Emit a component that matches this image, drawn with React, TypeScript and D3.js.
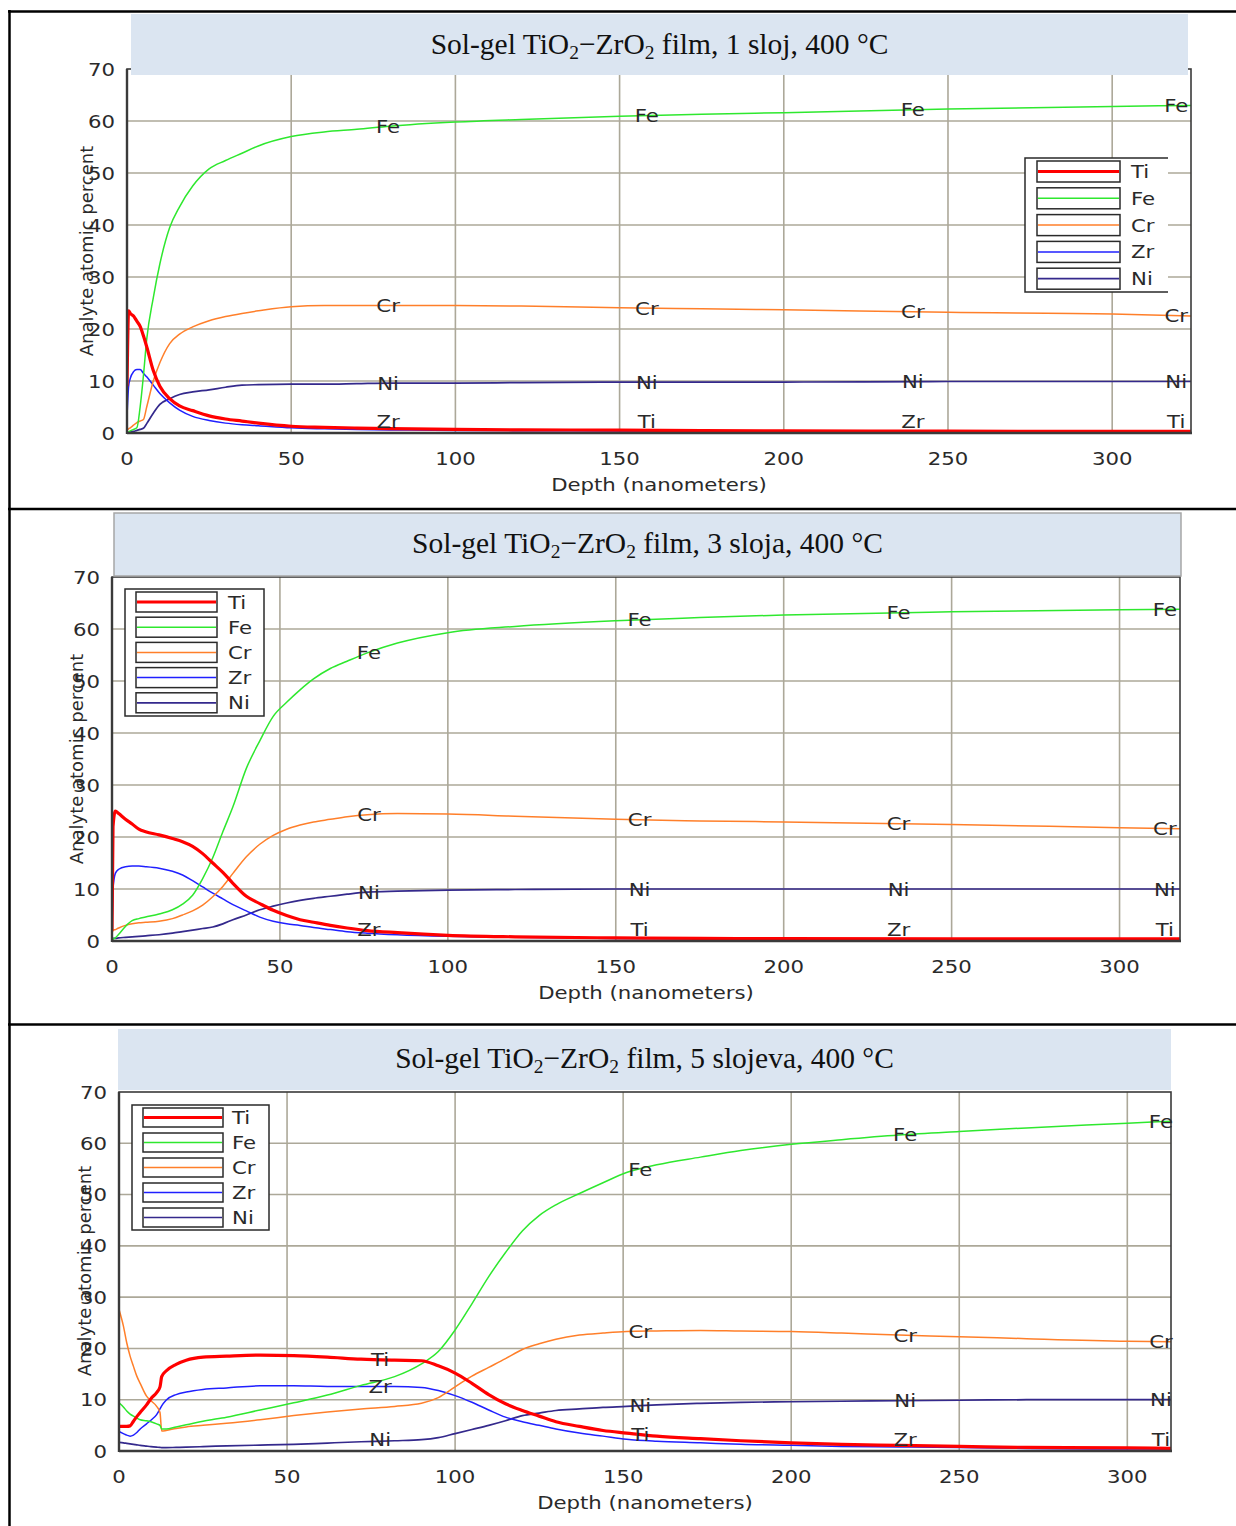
import React from "react";
import * as d3 from "d3";

// ---------- shared ----------
const SERIES = ["Ti", "Fe", "Cr", "Zr", "Ni"];
const COLORS: Record<string, string> = {
  Ti: "#ff0000",
  Fe: "#2ee82e",
  Cr: "#ff7f2a",
  Zr: "#2020ff",
  Ni: "#34298c",
};
const WIDTHS: Record<string, number> = { Ti: 3.2, Fe: 1.5, Cr: 1.5, Zr: 1.5, Ni: 1.7 };
const Y_TICKS = [0, 10, 20, 30, 40, 50, 60, 70];
const X_TICKS = [0, 50, 100, 150, 200, 250, 300];
const X_TITLE = "Depth (nanometers)";
const Y_TITLE = "Analyte atomic percent";

// ---------- panel 1: 1 sloj ----------
const depth1 = [0, 0.5, 1, 2, 3, 4, 5, 6, 8, 10, 13, 16, 20, 25, 30, 35, 40, 50, 60, 70, 80, 100, 120, 150, 175, 200, 250, 300, 324];
const ti1 = [9, 23.5, 23, 22.5, 21.5, 20.5, 18.7, 16.6, 12, 9, 6.6, 5.2, 4.3, 3.3, 2.7, 2.3, 1.9, 1.3, 1.1, 0.95, 0.85, 0.7, 0.6, 0.55, 0.45, 0.4, 0.35, 0.3, 0.3];
const fe1 = [0, 0.2, 0.4, 0.7, 1, 5, 11, 18, 26, 32.5, 39.5, 43.5, 47.5, 50.8, 52.4, 53.8, 55.2, 57, 57.9, 58.4, 59, 59.8, 60.3, 60.9, 61.3, 61.6, 62.3, 62.8, 63.0];
const cr1 = [0.5, 0.8, 1, 1.5, 2, 2.3, 2.6, 5, 10, 13.5, 17.2, 19, 20.4, 21.6, 22.4, 23, 23.5, 24.3, 24.5, 24.5, 24.5, 24.5, 24.4, 24.1, 23.9, 23.7, 23.2, 22.9, 22.5];
const zr1 = [3, 9, 10.5, 11.8, 12.2, 12.2, 11.5, 10.8, 9.2, 7.6, 5.8, 4.4, 3.2, 2.4, 1.9, 1.6, 1.4, 1.0, 0.8, 0.65, 0.6, 0.5, 0.45, 0.4, 0.35, 0.3, 0.3, 0.25, 0.25];
const ni1 = [0, 0.1, 0.2, 0.3, 0.5, 0.7, 0.9, 1.8, 3.8, 5.5, 6.6, 7.4, 7.9, 8.3, 8.8, 9.2, 9.3, 9.4, 9.4, 9.5, 9.6, 9.6, 9.7, 9.8, 9.8, 9.8, 9.9, 9.9, 9.9];
const labelAt1 = [79.5, 158.3, 239.3, 319.5];
const labelSeries1 = [["Fe", "Cr", "Ni", "Zr"], ["Fe", "Cr", "Ni", "Ti"], ["Fe", "Cr", "Ni", "Zr"], ["Fe", "Cr", "Ni", "Ti"]];

// ---------- panel 2: 3 sloja ----------
const depth2 = [0, 0.3, 1, 2, 4, 6, 8, 10, 14, 18, 21, 24, 27, 30, 33, 36, 40, 44, 48, 52, 56, 60, 65, 70, 76, 85, 100, 120, 150, 175, 200, 250, 300, 318];
const ti2 = [2, 22, 25, 24.5, 23.4, 22.5, 21.5, 21, 20.4, 19.7, 19.1, 18.2, 16.8, 15, 13.2, 11.1, 8.6, 7.2, 5.9, 4.9, 4.1, 3.6, 3.0, 2.5, 2.0, 1.6, 1.1, 0.8, 0.6, 0.5, 0.45, 0.4, 0.4, 0.4];
const fe2 = [0, 0.3, 0.6, 1.3, 2.8, 3.9, 4.3, 4.6, 5.2, 6.0, 7.1, 8.8, 12, 16, 21, 25.8, 33.2, 38.5, 43.2, 45.9, 48.3, 50.4, 52.4, 53.8, 55.4, 57.3, 59.3, 60.5, 61.6, 62.2, 62.7, 63.3, 63.7, 63.8];
const cr2 = [1.5, 2.0, 2.2, 2.5, 3.0, 3.3, 3.5, 3.6, 3.8, 4.3, 5, 5.8, 6.9, 8.5, 10.5, 13, 16.2, 18.6, 20.3, 21.5, 22.3, 22.9, 23.4, 23.9, 24.3, 24.5, 24.4, 24.0, 23.4, 23.1, 22.9, 22.4, 21.8, 21.6];
const zr2 = [2, 10, 13, 13.8, 14.3, 14.4, 14.4, 14.3, 14, 13.4, 12.7, 11.6, 10.4, 9.2, 8.1, 7, 5.8, 4.6, 3.8, 3.3, 3.0, 2.6, 2.2, 1.8, 1.5, 1.2, 0.9, 0.7, 0.5, 0.45, 0.4, 0.4, 0.35, 0.35];
const ni2 = [0.3, 0.5, 0.5, 0.6, 0.7, 0.8, 0.9, 1.0, 1.2, 1.5, 1.8, 2.1, 2.4, 2.7, 3.3, 4.1, 5.0, 6.0, 6.7, 7.3, 7.8, 8.2, 8.6, 9.0, 9.4, 9.6, 9.8, 9.9, 10, 10, 10, 10, 10, 10];
const labelAt2 = [76.5, 157.1, 234.2, 313.5];
const labelSeries2 = [["Fe", "Cr", "Ni", "Zr"], ["Fe", "Cr", "Ni", "Ti"], ["Fe", "Cr", "Ni", "Zr"], ["Fe", "Cr", "Ni", "Ti"]];

// ---------- panel 3: 5 slojeva ----------
const depth3 = [0, 1.3, 2.3, 3.3, 4.3, 5.3, 6.3, 8.2, 9.5, 11.2, 12.2, 12.7, 14, 17, 20, 25, 32, 42, 52, 62, 72, 82, 90, 95, 100, 105, 110, 115, 120, 125, 130, 137, 144, 151, 160, 173, 185, 200, 215, 232, 250, 270, 300, 313];
const ti3 = [4.8, 4.8, 4.8, 4.9, 5.8, 6.7, 7.5, 9, 10.2, 11.4, 12.5, 14.5, 15.6, 16.9, 17.7, 18.3, 18.5, 18.7, 18.6, 18.3, 17.9, 17.7, 17.6, 16.6, 15.2, 13.2, 11.0, 9.2, 7.9, 6.8, 5.7, 4.8, 4.0, 3.5, 2.9, 2.4, 2.0, 1.6, 1.3, 1.1, 0.9, 0.7, 0.6, 0.5];
const fe3 = [9.4, 8.6, 7.8, 7.2, 6.8, 6.4, 6.1, 5.9, 5.7, 5.3, 5.0, 4.3, 4.3, 4.7, 5.1, 5.8, 6.6, 8.0, 9.4, 10.9, 12.8, 14.5, 17.0, 19.4, 23.6, 28.7, 34, 38.7, 42.9, 45.9, 48.0, 50.2, 52.3, 54.3, 55.8, 57.3, 58.6, 59.8, 60.7, 61.6, 62.3, 63.0, 63.9, 64.3];
const cr3 = [27.6, 24.4, 21.1, 18.5, 16.5, 14.6, 13.2, 10.7, 9.8, 8.7, 7.5, 3.9, 4.0, 4.4, 4.7, 5.0, 5.4, 6.1, 6.9, 7.6, 8.2, 8.7, 9.3, 10.4, 12.5, 14.6, 16.3, 18.0, 19.8, 20.9, 21.8, 22.6, 23.0, 23.3, 23.4, 23.5, 23.4, 23.3, 23.0, 22.6, 22.3, 21.9, 21.4, 21.3];
const zr3 = [3.8, 3.4, 3.1, 2.9, 3.1, 3.6, 4.3, 5.3, 6.0, 7.1, 8.2, 8.8, 9.9, 11.0, 11.5, 12.0, 12.3, 12.7, 12.7, 12.6, 12.6, 12.6, 12.4, 11.8, 10.8, 9.5, 8.0, 6.6, 5.7, 5.0, 4.3, 3.5, 2.9, 2.3, 1.9, 1.6, 1.3, 1.1, 0.9, 0.8, 0.7, 0.5, 0.4, 0.4];
const ni3 = [1.7, 1.6, 1.5, 1.4, 1.3, 1.2, 1.1, 0.95, 0.85, 0.75, 0.7, 0.65, 0.65, 0.7, 0.75, 0.85, 1.0, 1.15, 1.3, 1.55, 1.8, 2.0, 2.2, 2.6, 3.4, 4.2, 5.0, 5.9, 6.9, 7.4, 7.9, 8.2, 8.5, 8.7, 9.0, 9.3, 9.5, 9.6, 9.7, 9.8, 9.9, 10, 10, 10];
const labelAt3 = [77.7, 155.1, 233.9, 310];
const labelSeries3 = [["Ti", "Zr", "Ni"], ["Fe", "Cr", "Ni", "Ti"], ["Fe", "Cr", "Ni", "Zr"], ["Fe", "Cr", "Ni", "Ti"]];

const TITLE_SUFFIX = [" film, 1 sloj, 400 °C", " film, 3 sloja, 400 °C", " film, 5 slojeva, 400 °C"];

// ---------- layout (positions only) ----------
type Layout = {
  left: number; right: number; top: number; bottom: number; xMax: number;
  tbox: { x: number; y: number; w: number; h: number; border: boolean };
  titleY: number;
  legend: { x: number; y: number; w: number; h: number; openRight: boolean; sx: number; sw: number; sh: number; sy: number; step: number; lx: number };
  yTitle: { x: number; y: number };
};

const layouts: Layout[] = [
  {
    left: 127, right: 1191, top: 69, bottom: 433, xMax: 324,
    tbox: { x: 131, y: 14, w: 1057, h: 61, border: false }, titleY: 54,
    legend: { x: 1025, y: 158, w: 143, h: 134, openRight: true, sx: 1037, sw: 83, sh: 21, sy: 161, step: 26.8, lx: 1131 },
    yTitle: { x: 87, y: 251 },
  },
  {
    left: 112, right: 1180, top: 577, bottom: 941, xMax: 318,
    tbox: { x: 114, y: 513, w: 1067, h: 63, border: true }, titleY: 553,
    legend: { x: 125, y: 589, w: 139, h: 127, openRight: false, sx: 136, sw: 81, sh: 20, sy: 592, step: 25.2, lx: 228 },
    yTitle: { x: 77, y: 759 },
  },
  {
    left: 119, right: 1171, top: 1092, bottom: 1451, xMax: 313,
    tbox: { x: 118, y: 1029, w: 1053, h: 61, border: false }, titleY: 1068,
    legend: { x: 132, y: 1105, w: 137, h: 125, openRight: false, sx: 143, sw: 80, sh: 19, sy: 1108, step: 25, lx: 232 },
    yTitle: { x: 85, y: 1271 },
  },
];

const panelData = [
  { depth: depth1, vals: { Ti: ti1, Fe: fe1, Cr: cr1, Zr: zr1, Ni: ni1 } as Record<string, number[]>, labelAt: labelAt1, labelSeries: labelSeries1 },
  { depth: depth2, vals: { Ti: ti2, Fe: fe2, Cr: cr2, Zr: zr2, Ni: ni2 } as Record<string, number[]>, labelAt: labelAt2, labelSeries: labelSeries2 },
  { depth: depth3, vals: { Ti: ti3, Fe: fe3, Cr: cr3, Zr: zr3, Ni: ni3 } as Record<string, number[]>, labelAt: labelAt3, labelSeries: labelSeries3 },
];

const SANS = "'DejaVu Sans', Verdana, sans-serif";
const SERIF = "'Liberation Serif', 'Times New Roman', serif";
const SX = 1.18; // horizontal stretch of chart text
const GRID = "#aca899";
const FRAME = "#3a3a3a";

function SText({ x, y, anchor, children, size = 18 }: any) {
  return (
    <text transform={`translate(${x},${y}) scale(${SX},1)`} textAnchor={anchor} fontFamily={SANS} fontSize={size} fill="#2a2a2a">
      {children}
    </text>
  );
}

function Panel({ idx }: { idx: number }) {
  const L = layouts[idx];
  const D = panelData[idx];
  const x = d3.scaleLinear().domain([0, L.xMax]).range([L.left, L.right]);
  const y = d3.scaleLinear().domain([0, 70]).range([L.bottom, L.top]);
  const order = ["Ni", "Zr", "Cr", "Fe", "Ti"];
  const clipId = `clip${idx}`;
  const interp = (s: string, d: number) => {
    const arr = D.vals[s];
    const dep = D.depth;
    const i = d3.bisectLeft(dep, d);
    if (i <= 0) return arr[0];
    if (i >= dep.length) return arr[arr.length - 1];
    const t = (d - dep[i - 1]) / (dep[i] - dep[i - 1]);
    return arr[i - 1] + t * (arr[i] - arr[i - 1]);
  };
  const lg = L.legend;
  return (
    <g>
      <defs>
        <clipPath id={clipId}>
          <rect x={L.left} y={L.top} width={L.right - L.left} height={L.bottom - L.top} />
        </clipPath>
      </defs>
      <rect x={L.left} y={L.top} width={L.right - L.left} height={L.bottom - L.top} fill="#fff" />
      {/* grid */}
      {Y_TICKS.filter((t) => t > 0 && t < 70).map((t) => (
        <line key={"gy" + t} x1={L.left} x2={L.right} y1={y(t)} y2={y(t)} stroke={GRID} strokeWidth={1.6} />
      ))}
      {X_TICKS.filter((t) => t > 0).map((t) => (
        <line key={"gx" + t} x1={x(t)} x2={x(t)} y1={L.top} y2={L.bottom} stroke={GRID} strokeWidth={1.6} />
      ))}
      {/* curves */}
      <g clipPath={`url(#${clipId})`}>
        {order.map((s) => {
          const line = d3
            .line<number>()
            .x((_, i) => x(D.depth[i]))
            .y((v) => y(v))
            .curve(d3.curveMonotoneX);
          return <path key={s} d={line(D.vals[s]) || ""} fill="none" stroke={COLORS[s]} strokeWidth={WIDTHS[s]} strokeLinejoin="round" />;
        })}
      </g>
      {/* frame */}
      <rect x={L.left} y={L.top} width={L.right - L.left} height={L.bottom - L.top} fill="none" stroke={FRAME} strokeWidth={1.6} />
      <line x1={L.left} x2={L.left} y1={L.top} y2={L.bottom + 1} stroke={FRAME} strokeWidth={2.4} />
      <line x1={L.left} x2={L.right + 1} y1={L.bottom} y2={L.bottom} stroke={FRAME} strokeWidth={2.4} />
      {/* curve labels */}
      {D.labelAt.map((d, k) =>
        D.labelSeries[k].map((s) => {
          const yy = Math.min(y(interp(s, d)), L.bottom - 12);
          return (
            <SText key={s + k} x={x(d)} y={yy + 6.5} anchor="middle">
              {s}
            </SText>
          );
        })
      )}
      {/* ticks */}
      {Y_TICKS.map((t) => (
        <SText key={"ty" + t} x={L.left - 12} y={y(t) + 6.5} anchor="end">
          {t}
        </SText>
      ))}
      {X_TICKS.map((t) => (
        <SText key={"tx" + t} x={x(t)} y={L.bottom + 32} anchor="middle">
          {t}
        </SText>
      ))}
      <SText x={(L.left + L.right) / 2} y={L.bottom + 58} anchor="middle">
        {X_TITLE}
      </SText>
      <text transform={`translate(${L.yTitle.x},${L.yTitle.y}) rotate(-90)`} textAnchor="middle" dy="0.35em" fontFamily={SANS} fontSize={18} fill="#2a2a2a">
        {Y_TITLE}
      </text>
      {/* legend */}
      <rect x={lg.x} y={lg.y} width={lg.w} height={lg.h} fill="#fff" stroke="none" />
      {lg.openRight ? (
        <path d={`M${lg.x + lg.w},${lg.y}H${lg.x}V${lg.y + lg.h}H${lg.x + lg.w}`} fill="none" stroke="#2a2a2a" strokeWidth={1.5} />
      ) : (
        <rect x={lg.x} y={lg.y} width={lg.w} height={lg.h} fill="none" stroke="#2a2a2a" strokeWidth={1.5} />
      )}
      {SERIES.map((s, i) => {
        const sy = lg.sy + i * lg.step;
        return (
          <g key={"lg" + s}>
            <rect x={lg.sx} y={sy} width={lg.sw} height={lg.sh} fill="#fff" stroke="#2a2a2a" strokeWidth={1.5} />
            <line x1={lg.sx + 1} x2={lg.sx + lg.sw - 1} y1={sy + lg.sh / 2} y2={sy + lg.sh / 2} stroke={COLORS[s]} strokeWidth={WIDTHS[s]} />
            <SText x={lg.lx} y={sy + lg.sh / 2 + 6.5} anchor="start">
              {s}
            </SText>
          </g>
        );
      })}
      {/* title */}
      <rect x={L.tbox.x} y={L.tbox.y} width={L.tbox.w} height={L.tbox.h} fill="#dbe5f1" stroke={L.tbox.border ? "#a6a6a6" : "none"} strokeWidth={1.5} />
      <text x={L.tbox.x + L.tbox.w / 2} y={L.titleY} textAnchor="middle" fontFamily={SERIF} fontSize={29.5} fill="#111">
        Sol-gel TiO
        <tspan fontSize={19.5} dy={5}>2</tspan>
        <tspan dy={-5}>−ZrO</tspan>
        <tspan fontSize={19.5} dy={5}>2</tspan>
        <tspan dy={-5}>{TITLE_SUFFIX[idx]}</tspan>
      </text>
    </g>
  );
}

export default function App() {
  return (
    <svg width={1236} height={1526} style={{ position: "absolute", left: 0, top: 0, background: "#fff" }}>
      <rect x={0} y={0} width={1236} height={1526} fill="#fff" />
      {[0, 1, 2].map((i) => (
        <Panel key={i} idx={i} />
      ))}
      {/* table borders */}
      <line x1={9.5} x2={9.5} y1={10} y2={1526} stroke="#000" strokeWidth={2.5} />
      <line x1={8} x2={1236} y1={11.5} y2={11.5} stroke="#000" strokeWidth={2.5} />
      <line x1={8} x2={1236} y1={509} y2={509} stroke="#000" strokeWidth={2.5} />
      <line x1={8} x2={1236} y1={1024.5} y2={1024.5} stroke="#000" strokeWidth={2.5} />
    </svg>
  );
}
